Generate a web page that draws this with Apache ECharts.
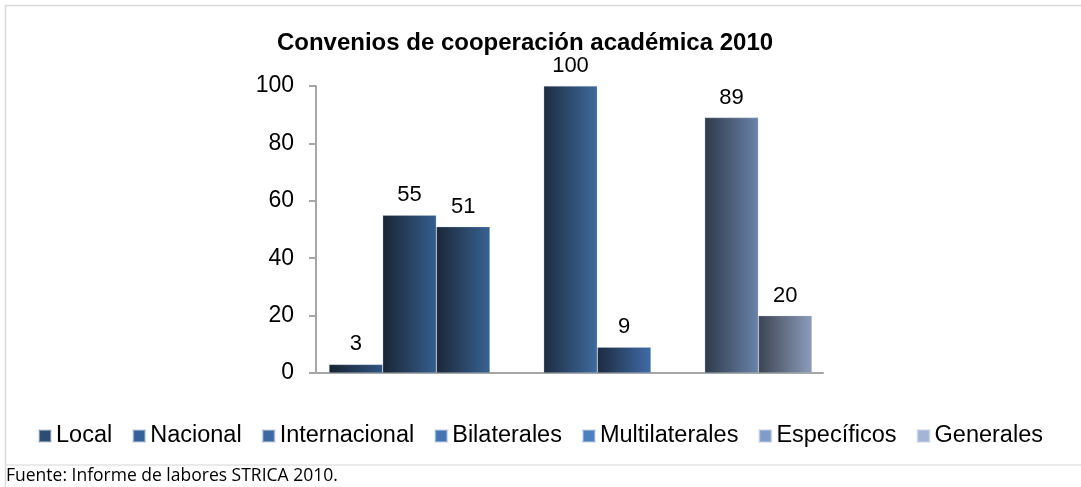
<!DOCTYPE html>
<html><head><meta charset="utf-8">
<script src="https://cdn.jsdelivr.net/npm/echarts@6/dist/echarts.min.js"></script>
<style>html,body{margin:0;padding:0;background:#fff;}#c{width:1081px;height:487px;}</style>
</head><body><div id="c"></div>
<script>
const chartTitle = 'Convenios de cooperación académica 2010';
const seriesNames = ['Local', 'Nacional', 'Internacional', 'Bilaterales', 'Multilaterales', 'Específicos', 'Generales'];
const seriesValues = [3, 55, 51, 100, 9, 89, 20];
const groupSizes = [3, 2, 2];
const yTicks = [0, 20, 40, 60, 80, 100];
const sourceText = 'Fuente: Informe de labores STRICA 2010.';

const gradStops = [
  ['#18222f', '#2e5583'],
  ['#1a2535', '#355e8e'],
  ['#1b2738', '#386391'],
  ['#1e2c40', '#3f6b9f'],
  ['#1d2a3f', '#406ca7'],
  ['#2f3a4a', '#6983a9'],
  ['#3c4452', '#8c9cba']
];
const legendColors = ['#2f4d73', '#36609a', '#3c69a4', '#4474b3', '#4a7fc0', '#7f9cc9', '#a3b4d7'];

// slot layout: groups separated by one empty slot
const slotOf = [];
let s = 0;
groupSizes.forEach(n => { for (let i = 0; i < n; i++) slotOf.push(s++); s++; });
const nSlots = s - 1;
const slotCats = Array.from({length: nSlots}, (_, i) => 'slot' + i);

const FONT = 'Liberation Sans, Arial, sans-serif';
const axisGray = '#a6a6a6';

const series = seriesNames.map((name, i) => {
  const data = slotCats.map(() => '-');
  data[slotOf[i]] = seriesValues[i];
  return {
    name, type: 'bar', xAxisIndex: 1, yAxisIndex: 1,
    data, barGap: '-100%', barCategoryGap: '0%',
    itemStyle: {
      color: new echarts.graphic.LinearGradient(0, 0, 1, 0, [
        {offset: 0, color: gradStops[i][0]},
        {offset: 1, color: gradStops[i][1]}
      ]),
      borderColor: 'rgba(200,210,225,0.5)', borderWidth: 0.6
    },
    label: {show: true, position: 'top', distance: 9, color: '#000', fontSize: 22, fontFamily: FONT},
    emphasis: {disabled: true},
    animation: false
  };
});

const chart = echarts.init(document.getElementById('c'), null, {renderer: 'canvas'});
chart.setOption({
  animation: false,
  backgroundColor: '#fff',
  title: {
    text: chartTitle, left: 520, textAlign: 'center', top: 26,
    textStyle: {fontSize: 24, fontWeight: 'bold', color: '#000', fontFamily: FONT}
  },
  legend: {
    data: seriesNames.map((n, i) => ({name: n, itemStyle: {color: legendColors[i]}})),
    left: 'center', top: 419, icon: 'rect', itemWidth: 12, itemHeight: 12, itemGap: 20,
    textStyle: {fontSize: 23.5, color: '#000', fontFamily: FONT}, selectedMode: false
  },
  grid: [
    {left: 316, right: 258, top: 86, bottom: 114},
    {left: 329, right: 269, top: 86, bottom: 114}
  ],
  xAxis: [
    {gridIndex: 0, type: 'category', data: [''], axisLine: {lineStyle: {color: axisGray, width: 2}},
     axisTick: {show: false}, axisLabel: {show: false}},
    {gridIndex: 1, type: 'category', data: slotCats, show: false}
  ],
  yAxis: [
    {gridIndex: 0, type: 'value', min: yTicks[0], max: yTicks[yTicks.length - 1], interval: yTicks[1] - yTicks[0],
     axisLine: {show: true, lineStyle: {color: axisGray, width: 2}},
     axisTick: {show: true, length: 7, lineStyle: {color: axisGray, width: 2}},
     axisLabel: {color: '#000', fontSize: 23, fontFamily: FONT, margin: 22},
     splitLine: {show: false}},
    {gridIndex: 1, type: 'value', min: yTicks[0], max: yTicks[yTicks.length - 1], show: false, splitLine: {show: false}}
  ],
  series,
  graphic: [
    {type: 'line', shape: {x1: 5, y1: 5.5, x2: 1081, y2: 5.5}, style: {stroke: '#d9d9d9', lineWidth: 1.5}},
    {type: 'line', shape: {x1: 5.5, y1: 5, x2: 5.5, y2: 487}, style: {stroke: '#d9d9d9', lineWidth: 1.5}},
    {type: 'line', shape: {x1: 5, y1: 465, x2: 1081, y2: 465}, style: {stroke: '#e3e3e3', lineWidth: 1.5}},
    {type: 'text', left: 6, top: 467, style: {text: sourceText, fill: '#000', fontSize: 17.5, fontFamily: 'Open Sans, sans-serif'}}
  ]
});
</script></body></html>
